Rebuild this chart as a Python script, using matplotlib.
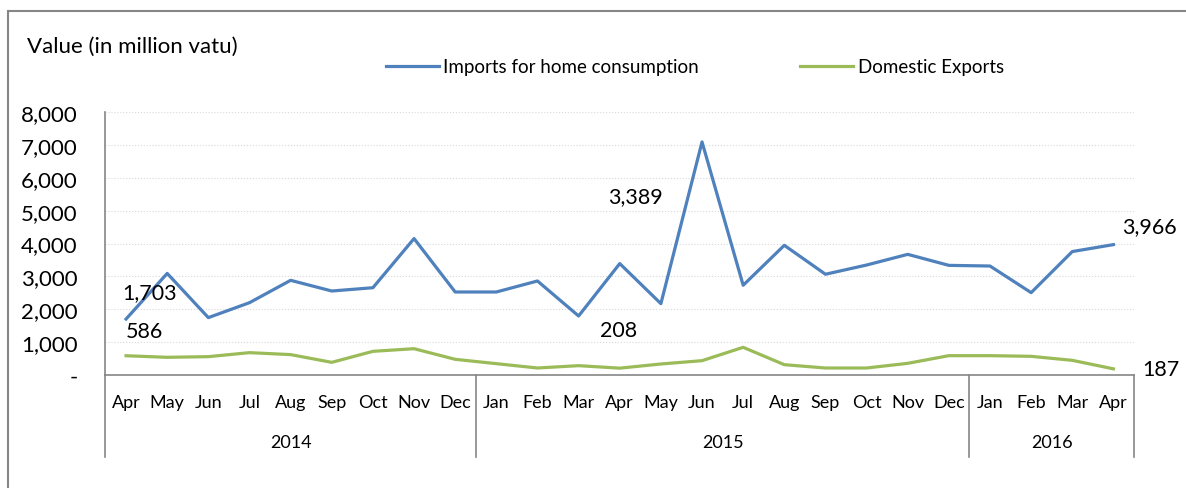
import numpy as np
import matplotlib.pyplot as plt
import matplotlib.patches as patches
import matplotlib.transforms as mtransforms
from matplotlib.ticker import FuncFormatter

plt.rcParams['font.family'] = ['Lato', 'DejaVu Sans']

# data (million vatu), Apr 2014 - Apr 2016
months = ['Apr', 'May', 'Jun', 'Jul', 'Aug', 'Sep', 'Oct', 'Nov', 'Dec',
          'Jan', 'Feb', 'Mar', 'Apr', 'May', 'Jun', 'Jul', 'Aug', 'Sep', 'Oct', 'Nov', 'Dec',
          'Jan', 'Feb', 'Mar', 'Apr']
years = ['2014', '2015', '2016']
year_counts = [9, 12, 4]

imports = [1703, 3090, 1745, 2200, 2880, 2555, 2655, 4150, 2525,
           2525, 2860, 1795, 3389, 2170, 7090, 2730, 3945, 3065, 3345, 3670, 3335,
           3315, 2505, 3755, 3966]
exports = [586, 538, 558, 680, 620, 385, 720, 800, 477,
           345, 213, 284, 208, 335, 436, 842, 314, 213, 213, 355, 588,
           588, 568, 446, 187]

blue = '#4F81BD'
green = '#9BBB59'

fig = plt.figure(figsize=(11.86, 4.89), dpi=100)
ax = fig.add_axes([105.5/1186, 113/489, (1134-105.5)/1186, 263/489])

x = np.arange(len(months))
l1, = ax.plot(x, imports, color=blue, lw=2.3, label='Imports for home consumption')
l2, = ax.plot(x, exports, color=green, lw=2.3, label='Domestic Exports')

ax.set_xlim(-0.5, len(months) - 0.5)
ax.set_ylim(0, 8000)
ax.set_yticks(np.arange(0, 8001, 1000))
ax.yaxis.set_major_formatter(FuncFormatter(lambda v, p: '-' if v == 0 else f'{int(v):,}'))
ax.tick_params(axis='y', length=0, pad=20, labelsize=16)
ax.set_xticks(x)
ax.set_xticklabels(months)
ax.tick_params(axis='x', length=0, pad=14, labelsize=13)

ax.grid(axis='y', color='#d9d9d9', ls=':', lw=0.8)
ax.set_axisbelow(True)
for s in ['top', 'right']:
    ax.spines[s].set_visible(False)
ax.spines['left'].set_color('#868686')
ax.spines['bottom'].set_color('#868686')
ax.spines['left'].set_linewidth(1.2)
ax.spines['bottom'].set_linewidth(1.2)

# year separators and labels
trans = mtransforms.blended_transform_factory(ax.transData, ax.transAxes)
edges = np.concatenate([[0], np.cumsum(year_counts)]) - 0.5
for e in edges:
    ax.plot([e, e], [0, -0.312], color='#868686', lw=1.2, transform=trans, clip_on=False)
for i, yr in enumerate(years):
    ax.text((edges[i] + edges[i + 1]) / 2, -0.255, yr, transform=trans,
            ha='center', va='center', fontsize=13)

# data labels
def lab(i, vals, txt, dx, dy):
    ax.annotate(txt, (x[i], vals[i]), xytext=(dx, dy), textcoords='offset pixels',
                ha='center', va='center', fontsize=15.5)

lab(0, imports, '1,703', 24, 27)
lab(0, exports, '586', 18, 25)
lab(12, imports, '3,389', 16, 67)
lab(12, exports, '208', -1, 38)
lab(24, imports, '3,966', 36, 19)
lab(24, exports, '187', 47, 0)

# title and legend
fig.text(27/1186, 1 - 47/489, 'Value (in million vatu)', fontsize=16, va='center', ha='left')
fig.legend(handles=[l1, l2], loc='center', bbox_to_anchor=(695/1186, 1 - 68/489),
           ncol=2, frameon=False, fontsize=13.5, handlelength=2.8, handletextpad=0.25,
           columnspacing=5.4)

# outer chart border
fig.patches.append(patches.Rectangle((8/1186, -0.1), 1.2, 1 - 12/489 + 0.1,
                                     transform=fig.transFigure, fill=False,
                                     edgecolor='#868686', lw=1.5))

fig.savefig('out.png', dpi=100)
